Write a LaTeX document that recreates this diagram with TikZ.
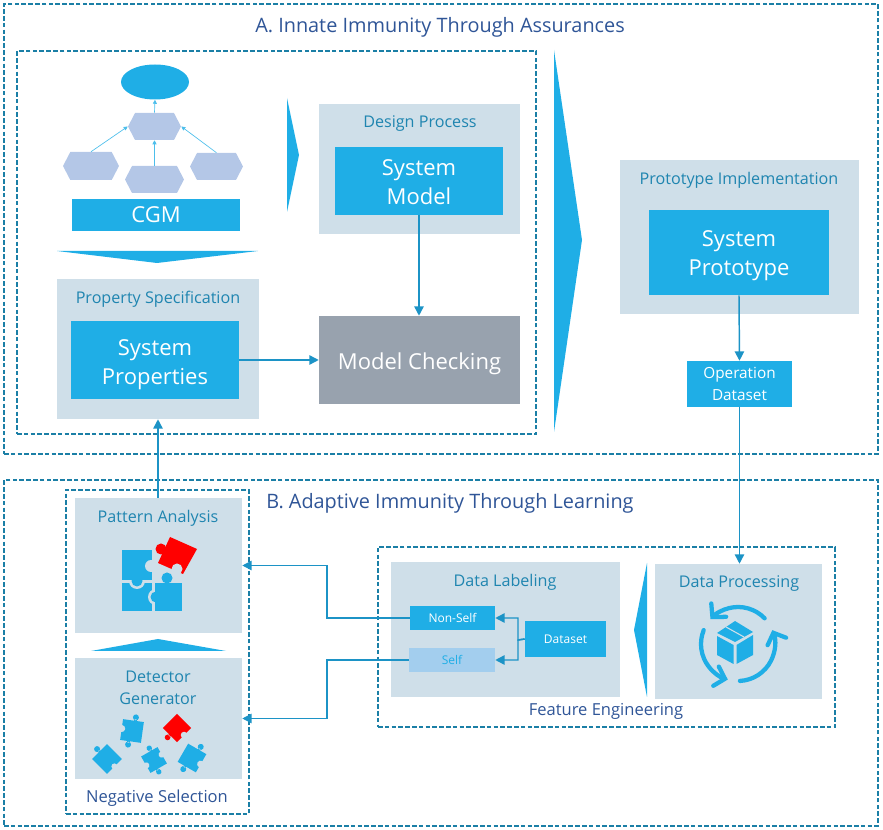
\documentclass[tikz,border=0pt]{standalone}
\usepackage{fontspec}
\setmainfont{Open Sans}
\usetikzlibrary{arrows.meta,positioning,shapes.geometric,shapes.symbols}
\definecolor{panel}{HTML}{CFDFE9}
\definecolor{skyblue}{HTML}{1FAEE6}
\definecolor{navy}{HTML}{2F5597}
\definecolor{tealtext}{HTML}{1F85B0}
\definecolor{dashline}{HTML}{1B7FA6}
\definecolor{flowline}{HTML}{1C93C6}
\definecolor{hexblue}{HTML}{B4C7E7}
\definecolor{selfblue}{HTML}{A3CEEE}
\definecolor{checkgray}{HTML}{98A2AE}

\begin{document}
\begin{tikzpicture}[x=0.75pt, y=-0.75pt,
  sized/.style 2 args={minimum width=#1*0.75pt, minimum height=#2*0.75pt, inner sep=0pt},
  dashbox/.style={draw=dashline, line width=1.5pt, dash pattern=on 3.5pt off 1.6pt},
  panelbox/.style={fill=panel},
  bluebox/.style={fill=skyblue, text=white, align=center, font=\fontsize{16.5}{21.75}\selectfont},
  smallbox/.style={fill=skyblue, text=white, align=center, font=\fontsize{9}{11}\selectfont},
  hexbox/.style={signal, signal to=east and west, signal from=nowhere, signal pointer angle=125, fill=hexblue},
  paneltitle/.style={text=tealtext, align=center, font=\fontsize{12.1}{16.5}\selectfont},
  grouptitle/.style={text=navy, font=\fontsize{12.4}{14}\selectfont},
  sectitle/.style={text=navy, font=\fontsize{14.9}{18}\selectfont},
  flow/.style={draw=flowline, line width=1.1pt, -{Triangle[length=7pt,width=7pt]}},
  thinflow/.style={draw=skyblue!80, line width=0.5pt, -{Triangle[length=3pt,width=3pt]}},
  bigarrow/.style={fill=skyblue},
  cycle/.style={draw=skyblue, line width=3.2pt, line cap=round, -{Straight Barb[length=7pt,width=15pt,line cap=round]}},
  jigsawA/.pic={
    \path[pic actions] (-10.5,-10.5) rectangle (10.5,10.5);
    \path[pic actions] (2,-14) circle (3) (0.7,-12) rectangle (3.3,-10);
    \path[pic actions] (-2,14) circle (3) (-3.3,10) rectangle (-0.7,12);
    \fill[panel] (10.5,1) circle (3.5);
  },
  jigsawB/.pic={
    \path[pic actions] (-10.5,-10.5) rectangle (10.5,10.5);
    \path[pic actions] (2,-14) circle (3) (0.7,-12) rectangle (3.3,-10);
    \path[pic actions] (-2,14) circle (3) (-3.3,10) rectangle (-0.7,12);
    \fill[panel] (10.5,-1) circle (3.5);
    \fill[panel] (-10.5,1) circle (3.5);
  },
  jigsawC/.pic={
    \path[pic actions] (-10.5,-10.5) rectangle (10.5,10.5);
    \path[pic actions] (0,-14) circle (3) (-1.3,-12) rectangle (1.3,-10);
    \fill[panel] (0,10.5) circle (3);
  },
  jigsawD/.pic={
    \path[pic actions] (-10.5,-10.5) rectangle (10.5,10.5);
    \path[pic actions] (0,-14) circle (3) (-1.3,-12) rectangle (1.3,-10);
    \fill[panel] (-10.5,0) circle (3.5);
  },
]
\useasboundingbox (0,0) rectangle (883,830);

% OUTER FRAMES
\node[dashbox, sized={874}{450}] (immunityA) at (441,229) {};
\node[dashbox, sized={874}{346}] (immunityB) at (441,653) {};
\node[sectitle] (titleA) at (440,27) {A. Innate Immunity Through Assurances};
\node[sectitle] (titleB) at (450,503) {B. Adaptive Immunity Through Learning};

% INNATE — left group
\node[dashbox, sized={519}{383}] (innate) at (276.5,242.5) {};
\node[fill=skyblue, ellipse, sized={68}{35}] (goal) at (155,82) {};
\node[hexbox, sized={53}{27}] (hexTop) at (154.5,126.5) {};
\node[hexbox, sized={56}{28}] (hexLeft) at (91,166) {};
\node[hexbox, sized={59}{27}] (hexMid) at (154.5,179.5) {};
\node[hexbox, sized={53}{27}] (hexRight) at (216.5,166.5) {};
\draw[thinflow] (hexTop.north) -- (goal.south);
\draw[thinflow] (hexMid.north) -- (hexTop.south);
\draw[thinflow] (hexLeft.north) -- (hexTop.west);
\draw[thinflow] (hexRight.north) -- (hexTop.east);
\node[bluebox, sized={168}{32}] (cgm) at (156,215) {CGM};
\fill[bigarrow] (57,251) -- (258,251) -- (157,263) -- cycle;

\node[panelbox, sized={202}{140}] (propSpec) at (158,349) {};
\node[paneltitle] (propTitle) at (158,299) {Property Specification};
\node[bluebox, sized={168}{78}, text height=37.5pt, text depth=0pt] (sysProps) at (155,360) {System\\Properties};

\fill[bigarrow] (287,98) -- (299,155) -- (287,212) -- cycle;
\node[panelbox, sized={201}{130}] (design) at (419.5,169) {};
\node[paneltitle] (designTitle) at (420,124) {Design Process};
\node[bluebox, sized={168}{68}, text height=36pt, text depth=0pt] (sysModel) at (419,181) {System\\Model};
\node[fill=checkgray, text=white, font=\fontsize{16.5}{20}\selectfont, sized={201}{88}, text height=15pt, text depth=0pt] (checking) at (419.5,360) {Model Checking};
\draw[flow] (sysModel.south) -- (checking.north -| sysModel.south);
\draw[flow] (sysProps.east) -- (checking.west);

% INNATE — prototype
\fill[bigarrow] (554,50) -- (582,240) -- (554,432) -- cycle;
\node[panelbox, sized={239}{154}] (protoImpl) at (739.5,237) {};
\node[paneltitle] (protoTitle) at (739,180) {Prototype Implementation};
\node[bluebox, sized={180}{85}, text height=34pt, text depth=0pt] (sysProto) at (739,252.5) {System\\Prototype};
\node[fill=skyblue, text=white, align=center, font=\fontsize{11.5}{16.5}\selectfont, sized={105}{46}, text height=25.5pt, text depth=0pt] (opData) at (739.5,384) {Operation\\Dataset};
\draw[flow] (sysProto.south) -- (opData.north);

% ADAPTIVE — negative selection
\node[dashbox, sized={183}{324}] (negSel) at (157.5,652) {};
\node[grouptitle] (negTitle) at (157,798) {Negative Selection};
\node[panelbox, sized={167}{135}] (pattern) at (158.5,565.5) {};
\node[paneltitle] (patternTitle) at (158,518) {Pattern Analysis};
\fill[bigarrow] (91,651) -- (226,651) -- (158,639) -- cycle;
\node[panelbox, sized={167}{121}] (detector) at (158.5,718.5) {};
\node[paneltitle] (detectorTitle) at (158,688) {Detector\\Generator};

% Puzzle in pattern analysis
\fill[skyblue] (122,583) rectangle (152,611);
\fill[panel] (137,581) circle (8);
\fill[skyblue] (137,581) circle (5.5);
\fill[panel] (156,597) circle (8);
\fill[skyblue] (156,597) circle (5.5);
\fill[skyblue] (122,550) rectangle (152,580);
\fill[panel] (151,566) circle (6);
\fill[skyblue] (155,583) rectangle (182,611);
\fill[skyblue] (167,578) circle (5.5);
\fill[red] (170,537) -- (197,549) -- (183,574) -- (158,563) -- cycle;
\fill[red] (161,549) circle (5.5);
\fill[panel] (177,569) circle (5.5);

% Puzzle in detector generator
\pic[fill=skyblue, rotate=172] (pieceOne) at (132,731) {jigsawA};
\pic[fill=red, rotate=135, scale=0.95] (pieceTwo) at (177,728) {jigsawD};
\pic[fill=skyblue, rotate=45] (pieceThree) at (107,759) {jigsawC};
\pic[fill=skyblue, rotate=30, scale=0.9] (pieceFour) at (154,760) {jigsawB};
\pic[fill=skyblue, rotate=-30] (pieceFive) at (192,758) {jigsawA};

% ADAPTIVE — feature engineering
\node[dashbox, sized={457}{180}] (feature) at (606.5,637) {};
\node[grouptitle] (featureTitle) at (606,711) {Feature Engineering};
\node[panelbox, sized={229}{135}] (labeling) at (505.5,629.5) {};
\node[paneltitle] (labelingTitle) at (505,582) {Data Labeling};
\node[smallbox, sized={85}{24}] (nonSelf) at (452.5,618) {Non-Self};
\node[smallbox, fill=selfblue, text=skyblue, sized={86}{24}] (self) at (452,660) {Self};
\node[smallbox, sized={81}{36}] (dataset) at (565.5,639) {Dataset};
\fill[bigarrow] (647,563) -- (634,630) -- (647,697) -- cycle;
\node[panelbox, sized={167}{135}] (processing) at (738.5,631.5) {};
\node[paneltitle] (processingTitle) at (739,584) {Data Processing};

% Recycle icon
\coordinate (hub) at (738,644);
\draw[cycle] (hub) ++(-44:37) arc[start angle=-44, end angle=-138, radius=37];
\draw[cycle] (hub) ++(87:37) arc[start angle=87, end angle=-22, radius=37];
\draw[cycle] (hub) ++(202:37) arc[start angle=202, end angle=106, radius=37];
\fill[skyblue] (735,621) -- (753,632) -- (735,642) -- (717,633) -- cycle;
\fill[skyblue] (717,636) -- (733.5,645) -- (733.5,664) -- (717,655) -- cycle;
\fill[skyblue] (736.5,645) -- (753,635) -- (753,655) -- (736.5,664) -- cycle;
\draw[panel, line width=0.8pt] (726,627) -- (744,637);

% Connectors
\coordinate (busLeft) at (327,640);
\coordinate (busRight) at (518,640);
\draw[flow] (opData.south) -- (processing.north -| opData.south);
\draw[flow] (pattern.north -| propSpec.south) -- (propSpec.south);
\draw[flow] (nonSelf.west) -- (nonSelf.west -| busLeft) |- (pattern.east);
\draw[flow] (self.west) -- (self.west -| busLeft) |- (detector.east);
\draw[flow] (dataset.west) -- (busRight) |- (nonSelf.east);
\draw[flow] (dataset.west) -- (busRight) |- (self.east);
\end{tikzpicture}
\end{document}
